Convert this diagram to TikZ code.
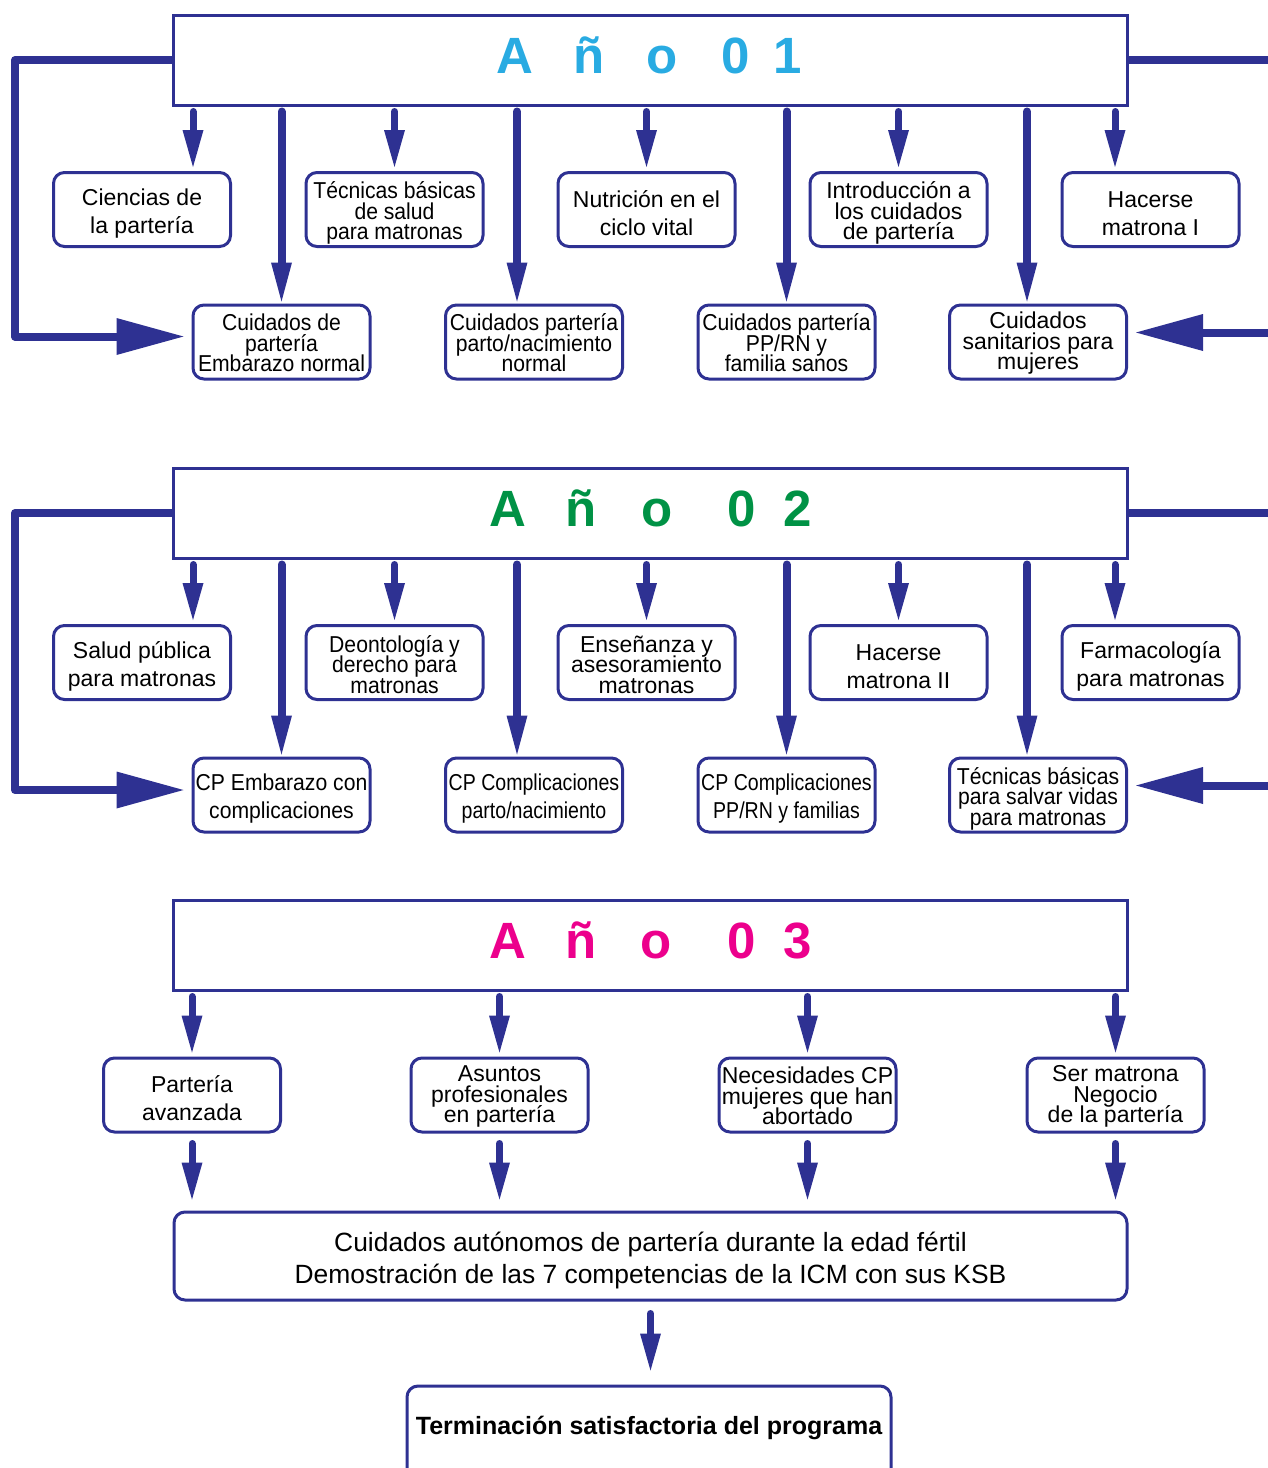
\documentclass[tikz,border=0pt]{standalone}
\usepackage{fontspec}
\setmainfont{Liberation Sans}
\newfontfamily\narrowsans[FakeStretch=0.92]{Liberation Sans}
\newfontfamily\tightsans[FakeStretch=0.85]{Liberation Sans}
\usetikzlibrary{arrows.meta}
\definecolor{navy}{HTML}{2E3192}
\definecolor{yearone}{HTML}{29ABE2}
\definecolor{yeartwo}{HTML}{009245}
\definecolor{yearthree}{HTML}{EC008C}
% five letters centred on fixed gaps
\newcommand\yeartitle[9]{\makebox[0pt]{#1}\hspace{#2}\makebox[0pt]{#3}\hspace{#4}\makebox[0pt]{#5}\hspace{#6}\makebox[0pt]{#7}\hspace{#8}\makebox[0pt]{#9}}
% first-line heights
\newcommand\tallstrut{\rule{0pt}{24pt}}
\newcommand\lowstrut{\rule{0pt}{19pt}}
% fixed line pitch, no extra skip for descenders
\newcommand\fixedlines{\lineskiplimit=-100pt\lineskip=0pt}
\begin{document}
\begin{tikzpicture}[x=1pt,y=-1pt,
  box/.style={draw=navy, line width=3pt, rounded corners=11pt, minimum width=177pt, minimum height=74pt, inner sep=0pt, align=center},
  two/.style={box, font=\fontsize{23}{28}\selectfont\fixedlines},
  twon/.style={box, font=\narrowsans\fontsize{23}{28}\selectfont\fixedlines},
  twot/.style={box, font=\tightsans\fontsize{23}{28}\selectfont\fixedlines},
  three/.style={box, font=\fontsize{23}{20.5}\selectfont\fixedlines},
  threen/.style={box, font=\narrowsans\fontsize{23}{20.5}\selectfont\fixedlines},
  hdr/.style={draw=navy, line width=3pt, minimum width=954pt, minimum height=90pt, inner sep=0pt, font=\fontsize{51}{51}\selectfont\bfseries, text depth=10pt},
  sarrow/.style={draw=navy, line width=7pt, line cap=round, -{Triangle[length=37pt,width=21pt,line width=0pt]}, shorten <=5pt, shorten >=4pt},
  larrow/.style={draw=navy, line width=8pt, line cap=round, -{Triangle[length=39pt,width=21pt,line width=0pt]}, shorten <=5pt, shorten >=2pt},
  loopline/.style={draw=navy, line width=8pt, line join=round},
  looparrow/.style={loopline, -{Triangle[length=67pt,width=37pt,line width=0pt]}, shorten >=8pt},
]
\useasboundingbox (0,0) rectangle (1268,1468);
\coordinate (Lx) at (15,0);
\coordinate (Rx) at (1280,0);

% ---------- Year 1 ----------
\node[hdr, text=yearone] (h1) at (650,60) {\hspace{3pt}\yeartitle{A}{74pt}{ñ}{73pt}{o}{74pt}{0}{52pt}{1}};
\node[two]    (b1) at (142,209.5)  {\tallstrut Ciencias de\\la partería};
\node[threen] (b2) at (394.5,209.5){\tallstrut Técnicas básicas\\de salud\\para matronas};
\node[two]    (b3) at (646.5,209.5){\tallstrut Nutrición en el\\ciclo vital};
\node[three]  (b4) at (898.5,209.5){\tallstrut Introducción a\\los cuidados\\de partería};
\node[two]    (b5) at (1150.5,209.5){\tallstrut Hacerse\\matrona I};
\node[threen] (c1) at (281.5,342)  {\lowstrut Cuidados de\\partería\\Embarazo normal};
\node[threen] (c2) at (534,342)    {\lowstrut Cuidados partería\\parto/nacimiento\\normal};
\node[threen] (c3) at (786.5,342)  {\lowstrut Cuidados partería\\PP/RN y\\familia sanos};
\node[three]  (c4) at (1038,342)   {\lowstrut Cuidados\\sanitarios para\\mujeres};

\path (b1.north) ++(51,0) coordinate (p1);
\path (b5.north) ++(-35.5,0) coordinate (p5);
\draw[sarrow] (h1.south -| p1) -- (p1);
\draw[sarrow] (h1.south -| b2) -- (b2.north);
\draw[sarrow] (h1.south -| b3) -- (b3.north);
\draw[sarrow] (h1.south -| b4) -- (b4.north);
\draw[sarrow] (h1.south -| p5) -- (p5);
\path (c2.north) ++(-17,0) coordinate (q2);
\path (c4.north) ++(-11,0) coordinate (q4);
\draw[larrow] (h1.south -| c1) -- (c1.north);
\draw[larrow] (h1.south -| q2) -- (q2);
\draw[larrow] (h1.south -| c3) -- (c3.north);
\draw[larrow] (h1.south -| q4) -- (q4);
\path ([yshift=5.5pt]c1.west) coordinate (c1in);
\path ([yshift=9.5pt]c4.east) coordinate (c4in);
\draw[looparrow] (h1.west) -- (h1.west -| Lx) |- (c1in);
\draw[loopline] (h1.east) -- (h1.east -| Rx);
\draw[looparrow] (c4in -| Rx) -- (c4in);

% ---------- Year 2 ----------
\node[hdr, text=yeartwo] (h2) at (650,513) {\hspace{6pt}\yeartitle{A}{73pt}{ñ}{76pt}{o}{85pt}{0}{56pt}{2}};
\node[two]    (d1) at (142,662.5)  {\tallstrut Salud pública\\para matronas};
\node[threen] (d2) at (394.5,662.5){\rule{0pt}{21pt}Deontología y\\derecho para\\matronas};
\node[three]  (d3) at (646.5,662.5){\rule{0pt}{21pt}Enseñanza y\\asesoramiento\\matronas};
\node[two]    (d4) at (898.5,662.5){\tallstrut Hacerse\\matrona II};
\node[two]    (d5) at (1150.5,662.5){\tallstrut Farmacología\\para matronas};
\node[twon]   (e1) at (281.5,795)  {\tallstrut CP Embarazo con\\complicaciones};
\node[twot]   (e2) at (534,795)    {\tallstrut CP Complicaciones\\parto/nacimiento};
\node[twot]   (e3) at (786.5,795)  {\tallstrut CP Complicaciones\\PP/RN y familias};
\node[threen] (e4) at (1038,795)   {\tallstrut Técnicas básicas\\para salvar vidas\\para matronas};

\path (d1.north) ++(51,0) coordinate (r1);
\path (d5.north) ++(-35.5,0) coordinate (r5);
\draw[sarrow] (h2.south -| r1) -- (r1);
\draw[sarrow] (h2.south -| d2) -- (d2.north);
\draw[sarrow] (h2.south -| d3) -- (d3.north);
\draw[sarrow] (h2.south -| d4) -- (d4.north);
\draw[sarrow] (h2.south -| r5) -- (r5);
\path (e2.north) ++(-17,0) coordinate (s2);
\path (e4.north) ++(-11,0) coordinate (s4);
\draw[larrow] (h2.south -| e1) -- (e1.north);
\draw[larrow] (h2.south -| s2) -- (s2);
\draw[larrow] (h2.south -| e3) -- (e3.north);
\draw[larrow] (h2.south -| s4) -- (s4);
\path ([yshift=5pt]e1.west) coordinate (e1in);
\path ([yshift=9.5pt]e4.east) coordinate (e4in);
\draw[looparrow] (h2.west) -- (h2.west -| Lx) |- (e1in);
\draw[loopline] (h2.east) -- (h2.east -| Rx);
\draw[looparrow] (e4in -| Rx) -- (e4in);

% ---------- Year 3 ----------
\node[hdr, text=yearthree] (h3) at (650,945) {\hspace{6pt}\yeartitle{A}{73pt}{ñ}{75pt}{o}{86pt}{0}{56pt}{3}};
\node[two]   (f1) at (192,1095)   {\tallstrut Partería\\avanzada};
\node[three] (f2) at (499.5,1095) {\lowstrut Asuntos\\profesionales\\en partería};
\node[three] (f3) at (807.5,1095) {\lowstrut Necesidades CP\\mujeres que han\\abortado};
\node[three] (f4) at (1115.5,1095){\lowstrut Ser matrona\\Negocio\\de la partería};
\node[box, minimum width=953pt, minimum height=88pt, font=\fontsize{26.4}{32}\selectfont] (g) at (650.5,1256)
  {\rule{0pt}{28pt}Cuidados autónomos de partería durante la edad fértil\\Demostración de las 7 competencias de la ICM con sus KSB};
\node[box, minimum width=484pt, minimum height=104pt, font=\fontsize{25}{30}\selectfont\bfseries, text height=18pt, text depth=26pt] (fin) at (649,1438)
  {Terminación satisfactoria del programa};

\foreach \n in {f1,f2,f3,f4}{
  \draw[sarrow] (h3.south -| \n) -- (\n.north);
  \draw[sarrow, shorten <=10pt, shorten >=11pt] (\n.south) -- (\n.south |- g.north);
}
\draw[sarrow, shorten <=12pt, shorten >=14pt] (g.south) -- (g.south |- fin.north);
\end{tikzpicture}
\end{document}
